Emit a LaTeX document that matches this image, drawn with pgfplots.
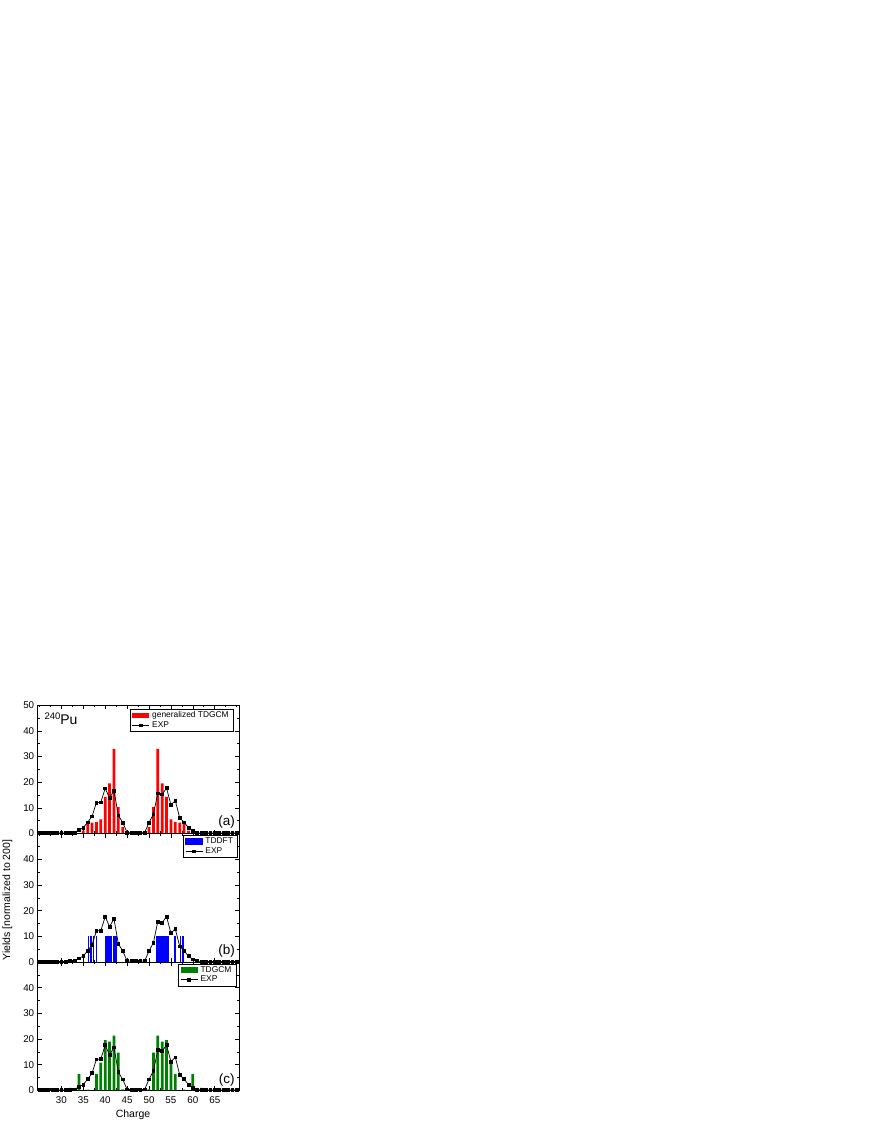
\documentclass[border=0pt]{standalone}
\usepackage{fontspec}
\setmainfont{Liberation Sans}
\usepackage{pgfplots}
\usepackage{pgfplotstable}
\pgfplotsset{compat=1.18}

\definecolor{tdgcmgreen}{RGB}{0,128,0}

% experimental yields (same in every panel)
\pgfplotstableread{
Z Y
25 0.2
26 0.2
27 0.2
28 0.2
29 0.2
30 0.2
31 0.2
32 0.3
33 0.4
34 1.4
35 2.3
36 4.4
37 6.7
38 12.1
39 12.2
40 17.6
41 13.8
42 16.8
43 7.1
44 4.3
45 0.4
46 0.3
47 0.3
48 0.3
49 0.4
50 4.3
51 7.5
52 15.7
53 15.3
54 17.7
55 11.2
56 12.9
57 6.1
58 4.4
59 2.3
60 1.0
61 0.3
62 0.2
63 0.2
64 0.2
65 0.2
66 0.2
67 0.2
68 0.2
69 0.2
70 0.2
}\expdata

% generalized TDGCM
\pgfplotstableread{
Z Y
35 1.2
36 4.2
37 4.3
38 4.5
39 5.5
40 14.3
41 19.6
42 33.0
43 10.3
44 2.5
50 2.5
51 10.3
52 33.0
53 19.6
54 14.3
55 5.5
56 4.5
57 4.3
58 4.2
59 1.2
}\gentdgcm

% TDGCM
\pgfplotstableread{
Z Y
32 1.0
34 6.3
36 0.3
38 6.3
39 10.8
40 19.6
41 19.0
42 21.3
43 14.7
44 0.4
50 0.4
51 14.7
52 21.3
53 19.0
54 19.6
55 10.8
56 6.3
58 0.3
60 6.3
62 1.0
}\tdgcm

% TDDFT fragments (height 10 each)
\pgfplotstableread{
Z Y
36.20 10
36.55 10
36.85 10
37.25 10
38.00 10
39.95 10
40.08 10
40.21 10
40.34 10
40.57 10
40.70 10
40.83 10
40.96 10
41.09 10
41.22 10
41.35 10
41.48 10
41.78 10
41.91 10
42.04 10
42.17 10
42.30 10
42.43 10
42.55 10
51.60 10
51.73 10
51.86 10
51.99 10
52.12 10
52.25 10
52.38 10
52.51 10
52.64 10
52.92 10
53.05 10
53.18 10
53.31 10
53.44 10
53.57 10
53.83 10
53.96 10
54.09 10
54.35 10
55.70 10
56.00 10
57.10 10
57.50 10
57.85 10
}\tddft

\pgfplotsset{
  panel/.style={
    scale only axis, width=201.6pt, height=128.4pt,
    xmin=24.6, xmax=70.6, ymin=0, ymax=50,
    xtick={30,35,...,65}, minor xtick={25,27.5,...,70},
    ytick={0,10,...,50}, minor ytick={5,15,...,45},
    tick align=inside, major tick length=4pt, minor tick length=2.2pt,
    tick style={black, line width=0.6pt},
    axis line style={line width=0.8pt},
    tick label style={font=\fontsize{9.8}{10}\selectfont},
    /pgf/number format/assume math mode=true,
    xticklabel style={yshift=-2.5pt},
    legend cell align=left,
    legend style={font=\fontsize{8.4}{9}\selectfont, draw=black,
      inner xsep=2pt, inner ysep=1.5pt,
      nodes={inner xsep=2.5pt, inner ysep=1pt, text height=6pt, text depth=1.7pt},
      anchor=north east},
  },
  exp/.style={black, line width=0.7pt, mark=square*, mark size=1.4pt},
  barrect/.style={legend image code/.code={\fill[#1] (0cm,-0.1cm) rectangle (0.6cm,0.1cm);}},
}
\tikzset{plabel/.style={font=\fontsize{13.5}{14}\selectfont}}

\begin{document}
\begin{tikzpicture}
\useasboundingbox (0pt,0pt) rectangle (868pt,1123pt);

% (a) generalized TDGCM
\begin{axis}[panel, at={(37.7pt,289.4pt)}, anchor=south west,
  xticklabels={},
  legend style={at={(rel axis cs:0.971,0.970)}}]
  \addplot[ybar, bar width=0.62, bar shift=0pt, fill=red, draw=none, barrect=red] table {\gentdgcm};
  \addplot[exp] table {\expdata};
  \legend{generalized TDGCM, EXP}
  \node[plabel] at (rel axis cs:0.9375,0.088) {(a)};
  \node[anchor=base west, inner sep=0pt] at (rel axis cs:0.033,0.846)
    {\raisebox{5pt}{\fontsize{9.5}{9}\selectfont 240}\fontsize{14}{14}\selectfont Pu};
\end{axis}

% (b) TDDFT
\begin{axis}[panel, at={(37.7pt,161.0pt)}, anchor=south west,
  xticklabels={}, yticklabels={0,10,20,30,40,{}},
  legend style={at={(rel axis cs:0.992,0.989)}}]
  \addplot[ycomb, blue, line width=0.7pt, barrect=blue] table {\tddft};
  \addplot[exp] table {\expdata};
  \legend{TDDFT, EXP}
  \node[plabel] at (rel axis cs:0.9375,0.088) {(b)};
\end{axis}

% (c) TDGCM
\begin{axis}[panel, at={(37.7pt,32.6pt)}, anchor=south west,
  yticklabels={0,10,20,30,40,{}},
  legend style={at={(rel axis cs:0.984,0.988)}}]
  \addplot[ybar, bar width=0.62, bar shift=0pt, fill=tdgcmgreen, draw=none, barrect=tdgcmgreen] table {\tdgcm};
  \addplot[exp] table {\expdata};
  \legend{TDGCM, EXP}
  \node[plabel] at (rel axis cs:0.9375,0.082) {(c)};
\end{axis}

\node[anchor=base, font=\fontsize{10.5}{11}\selectfont] at (133pt,5.5pt) {Charge};
\node[rotate=90, font=\fontsize{10.5}{11}\selectfont] at (7.5pt,223pt) {Yields [normalized to 200]};
\end{tikzpicture}
\end{document}
